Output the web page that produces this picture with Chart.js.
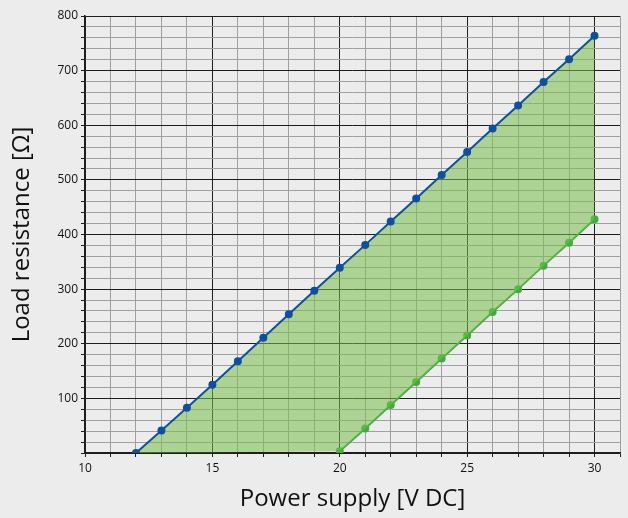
<!DOCTYPE html>
<html>
<head>
<meta charset="utf-8">
<script src="https://cdn.jsdelivr.net/npm/chart.js@4/dist/chart.umd.min.js"></script>
<style>
  html, body { margin: 0; padding: 0; background: #ececec; }
  #wrap { width: 628px; height: 518px; position: relative; }
</style>
</head>
<body>
<div id="wrap"><canvas id="chart"></canvas></div>
<script>
// supply voltage [V DC] and load resistance [ohm]
const upperVolts = [12, 13, 14, 15, 16, 17, 18, 19, 20, 21, 22, 23, 24, 25, 26, 27, 28, 29, 30];
const upperOhms = [0, 41, 83, 125, 168, 211, 254, 297, 339, 381, 424, 466, 509, 551, 594, 636, 679, 721, 764];
const lowerVolts = [20, 21, 22, 23, 24, 25, 26, 27, 28, 29, 30];
const lowerOhms = [3, 45, 88, 130, 173, 215, 258, 300, 343, 385, 428];
const xTickLabels = [10, 15, 20, 25, 30];
const yTickLabels = [100, 200, 300, 400, 500, 600, 700, 800];

const toPoints = (xs, ys) => xs.map((x, i) => ({ x: x, y: ys[i] }));

// lower edge of the shaded area: along the axis from the first upper point, then the green line
const edgePoints = [{ x: upperVolts[0], y: upperOhms[0] }].concat(toPoints(lowerVolts, lowerOhms));

const blue = '#0f4fa3';
const green = '#3fae3a';
const fontFamily = '"Open Sans", "Noto Sans", sans-serif';

function gridColor(ctx) {
  const v = ctx.tick ? ctx.tick.value : 0;
  return v % 5 === 0 ? '#1e1e1e' : '#a0a0a0';
}

function yGridColor(ctx) {
  const v = ctx.tick ? ctx.tick.value : 0;
  return v % 100 === 0 ? '#1e1e1e' : '#a0a0a0';
}

new Chart(document.getElementById('chart'), {
  type: 'line',
  data: {
    datasets: [{
      data: toPoints(upperVolts, upperOhms),
      borderColor: blue,
      backgroundColor: 'rgba(120, 190, 76, 0.55)',
      pointBackgroundColor: blue,
      pointBorderColor: blue,
      pointRadius: 3,
      borderWidth: 2,
      fill: '+1',
      tension: 0
    }, {
      data: edgePoints,
      borderWidth: 0,
      pointRadius: 0,
      showLine: false,
      fill: false
    }, {
      data: toPoints(lowerVolts, lowerOhms),
      borderColor: green,
      backgroundColor: green,
      pointBackgroundColor: green,
      pointBorderColor: green,
      pointRadius: 3,
      borderWidth: 2,
      fill: false,
      tension: 0
    }]
  },
  options: {
    responsive: true,
    maintainAspectRatio: false,
    animation: false,
    layout: { padding: { top: 16, right: 8, left: 0, bottom: 0 } },
    plugins: {
      legend: { display: false },
      tooltip: { enabled: false }
    },
    scales: {
      x: {
        type: 'linear',
        min: 10,
        max: 31,
        afterFit: scale => { scale.height = 65; },
        ticks: {
          stepSize: 1,
          autoSkip: false,
          maxRotation: 0,
          color: '#111',
          font: { family: fontFamily, size: 12 },
          padding: 4,
          callback: v => xTickLabels.includes(v) ? String(v) : ''
        },
        grid: { color: gridColor, lineWidth: 1, tickLength: 4, tickColor: '#1e1e1e' },
        border: { color: '#1e1e1e', width: 1.5 },
        title: {
          display: true,
          text: 'Power supply [V DC]',
          color: '#111',
          font: { family: fontFamily, size: 24 },
          padding: { top: 8, bottom: 4 }
        }
      },
      y: {
        min: 0,
        max: 800,
        afterFit: scale => { scale.width = 85; },
        ticks: {
          stepSize: 20,
          autoSkip: false,
          color: '#111',
          font: { family: fontFamily, size: 12 },
          padding: 3,
          callback: v => yTickLabels.includes(v) ? String(v) : ''
        },
        grid: { color: yGridColor, lineWidth: 1, tickLength: 4, tickColor: '#1e1e1e' },
        border: { color: '#1e1e1e', width: 1.5 },
        title: {
          display: true,
          text: 'Load resistance [Ω]',
          color: '#111',
          font: { family: fontFamily, size: 24 },
          padding: { top: 8, bottom: 8 }
        }
      }
    }
  }
});
</script>
</body>
</html>
